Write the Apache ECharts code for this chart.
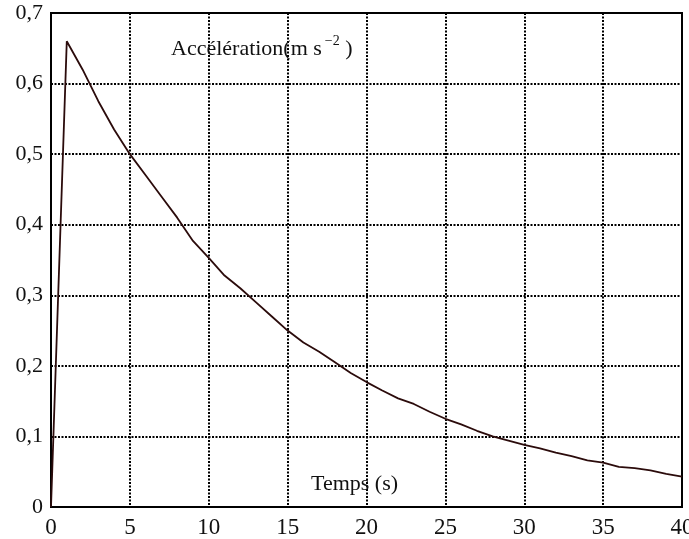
<!DOCTYPE html>
<html>
<head>
<meta charset="utf-8">
<script src="https://cdn.jsdelivr.net/npm/echarts@6/dist/echarts.min.js"></script>
<style>
html,body{margin:0;padding:0;background:#fff;}
#chart{width:689px;height:539px;}
</style>
</head>
<body>
<div id="chart"></div>
<script>
// Time (s)
var timeValues = [0,1,2,3,4,5,6,7,8,9,10,11,12,13,14,15,16,17,18,19,20,21,22,23,24,25,26,27,28,29,30,31,32,33,34,35,36,37,38,39,40];
// Acceleration (m s^-2)
var accelValues = [0,0.66,0.62,0.575,0.535,0.50,0.47,0.44,0.41,0.377,0.353,0.328,0.31,0.29,0.27,0.25,0.233,0.22,0.205,0.19,0.177,0.165,0.154,0.146,0.135,0.125,0.117,0.108,0.100,0.094,0.088,0.083,0.077,0.072,0.066,0.063,0.057,0.055,0.052,0.047,0.043];
var yAxisTitle = 'Accélération';
var xAxisTitle = 'Temps (s)';

var FONT = '"Liberation Serif", "Times New Roman", serif';
var pts = timeValues.map(function(t, i){ return [t, accelValues[i]]; });
function comma(v){ return v === 0 ? '0' : (Math.round(v*10)/10).toString().replace('.', ','); }

var chart = echarts.init(document.getElementById('chart'), null, {renderer:'canvas'});
chart.setOption({
  animation:false,
  backgroundColor:'#ffffff',
  grid:{left:51,right:7,top:13,bottom:32,show:true,borderColor:'#000',borderWidth:2,backgroundColor:'transparent',
        containLabel:false, outerBoundsMode:'none'},
  title:[
    {text:'{t|' + yAxisTitle + '(m s}{sup|−2}{t| )}', left:166, top:29,
     textStyle:{fontWeight:'normal',rich:{
       t:{fontFamily:FONT,fontSize:22,fontWeight:'normal',color:'#111',verticalAlign:'bottom',lineHeight:26},
       sup:{fontFamily:FONT,fontSize:14,fontWeight:'normal',color:'#111',verticalAlign:'top',padding:[0,0,10,3],lineHeight:26}
     }}},
    {text:xAxisTitle, left:306, top:468, textStyle:{fontFamily:FONT,fontSize:22,fontWeight:'normal',color:'#111'}}
  ],
  xAxis:{type:'value',min:0,max:40,interval:5,
    axisLine:{show:true,lineStyle:{color:'#000',width:2}},
    axisTick:{show:false},
    axisLabel:{fontFamily:FONT,fontSize:23,color:'#111',margin:9,formatter:comma},
    splitLine:{show:true,showMinLine:false,showMaxLine:false,lineStyle:{color:'#000',width:2,type:[2,1.5]}}
  },
  yAxis:{type:'value',min:0,max:0.7,interval:0.1,
    axisLine:{show:true,lineStyle:{color:'#000',width:2}},
    axisTick:{show:false},
    axisLabel:{fontFamily:FONT,fontSize:22,color:'#111',margin:8,formatter:comma},
    splitLine:{show:true,showMinLine:false,showMaxLine:false,lineStyle:{color:'#000',width:2,type:[2,1.5]}}
  },
  series:[{type:'line',data:pts,showSymbol:false,symbol:'none',
    lineStyle:{color:'#2b0b0b',width:1.8},z:5}]
});
</script>
</body>
</html>
